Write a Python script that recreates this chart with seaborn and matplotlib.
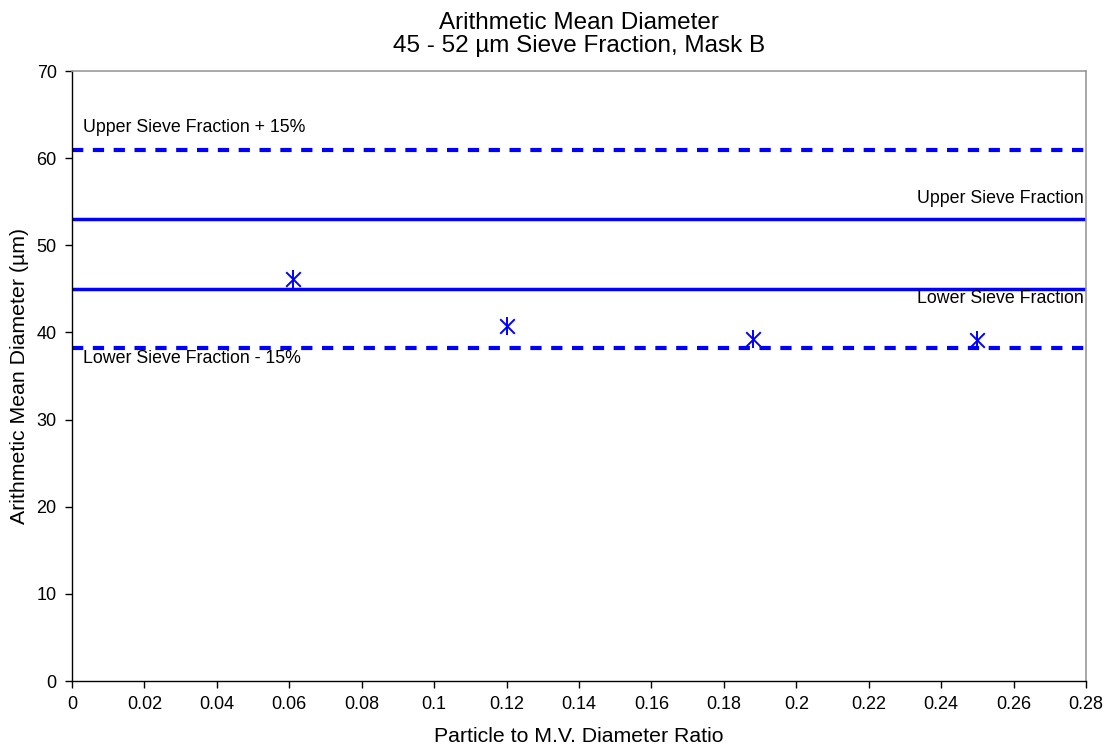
import matplotlib
matplotlib.use("Agg")
import matplotlib.pyplot as plt
import seaborn as sns
import pandas as pd

# Data
ratio = [0.061, 0.120, 0.188, 0.250]
diameter = [46.1, 40.7, 39.3, 39.1]

limit_values = [60.95, 53.0, 45.0, 38.25]
limit_labels = ["Upper Sieve Fraction + 15%", "Upper Sieve Fraction",
                "Lower Sieve Fraction", "Lower Sieve Fraction - 15%"]
limit_styles = ["dotted", "solid", "solid", "dotted"]

x_ticks = [0, 0.02, 0.04, 0.06, 0.08, 0.1, 0.12, 0.14, 0.16, 0.18, 0.2, 0.22, 0.24, 0.26, 0.28]
x_tick_labels = ["0", "0.02", "0.04", "0.06", "0.08", "0.1", "0.12", "0.14", "0.16",
                 "0.18", "0.2", "0.22", "0.24", "0.26", "0.28"]
y_ticks = [0, 10, 20, 30, 40, 50, 60, 70]

sns.set_style("white")
plt.rcParams['font.family'] = ['Liberation Sans', 'DejaVu Sans']
plt.rcParams['text.color'] = 'black'
plt.rcParams['axes.labelcolor'] = 'black'
plt.rcParams['xtick.color'] = 'black'
plt.rcParams['ytick.color'] = 'black'

fig = plt.figure(figsize=(11.07, 7.52), dpi=100)
ax = fig.add_axes([72/1107, 71/752, (1086-72)/1107, (681-71)/752])

blue = "#0000FF"
for val, style in zip(limit_values, limit_styles):
    if style == "dotted":
        ax.axhline(val, color=blue, lw=3, linestyle=(0, (2.7, 2.3)), zorder=2)
    else:
        ax.axhline(val, color=blue, lw=2.5, linestyle="-", zorder=2)

df = pd.DataFrame({"ratio": ratio, "diameter": diameter})
sns.scatterplot(data=df, x="ratio", y="diameter", marker="x", s=110, color=blue,
                linewidth=1.4, ax=ax, zorder=3, legend=False)
sns.scatterplot(data=df, x="ratio", y="diameter", marker="|", s=150, color=blue,
                linewidth=1.4, ax=ax, zorder=3, legend=False)

# Annotations
ax.text(0.003, 63.5, limit_labels[0], ha="left", va="center", fontsize=12.8)
ax.text(0.2795, 55.4, limit_labels[1], ha="right", va="center", fontsize=12.8)
ax.text(0.2795, 43.9, limit_labels[2], ha="right", va="center", fontsize=12.8)
ax.text(0.003, 37.0, limit_labels[3], ha="left", va="center", fontsize=12.8)

ax.set_xlim(0, 0.28)
ax.set_ylim(0, 70)
ax.set_xticks(x_ticks)
ax.set_xticklabels(x_tick_labels)
ax.set_yticks(y_ticks)
ax.tick_params(axis="both", which="both", direction="out", length=5, width=1,
               labelsize=13, bottom=True, left=True, pad=6, colors="black")

for side in ["left", "bottom"]:
    ax.spines[side].set_color("black")
    ax.spines[side].set_linewidth(1)
for side in ["top", "right"]:
    ax.spines[side].set_color("#999999")
    ax.spines[side].set_linewidth(1.2)

ax.set_xlabel("Particle to M.V. Diameter Ratio", fontsize=15.3, labelpad=10)
ax.set_ylabel("Arithmetic Mean Diameter (µm)", fontsize=15.3, va="center")
ax.yaxis.set_label_coords((19 - 72) / 1014, 0.5)
ax.set_title("Arithmetic Mean Diameter\n45 - 52 µm Sieve Fraction, Mask B", fontsize=17.5, pad=14,
             linespacing=1.05)

fig.savefig("out.png", dpi=100)
